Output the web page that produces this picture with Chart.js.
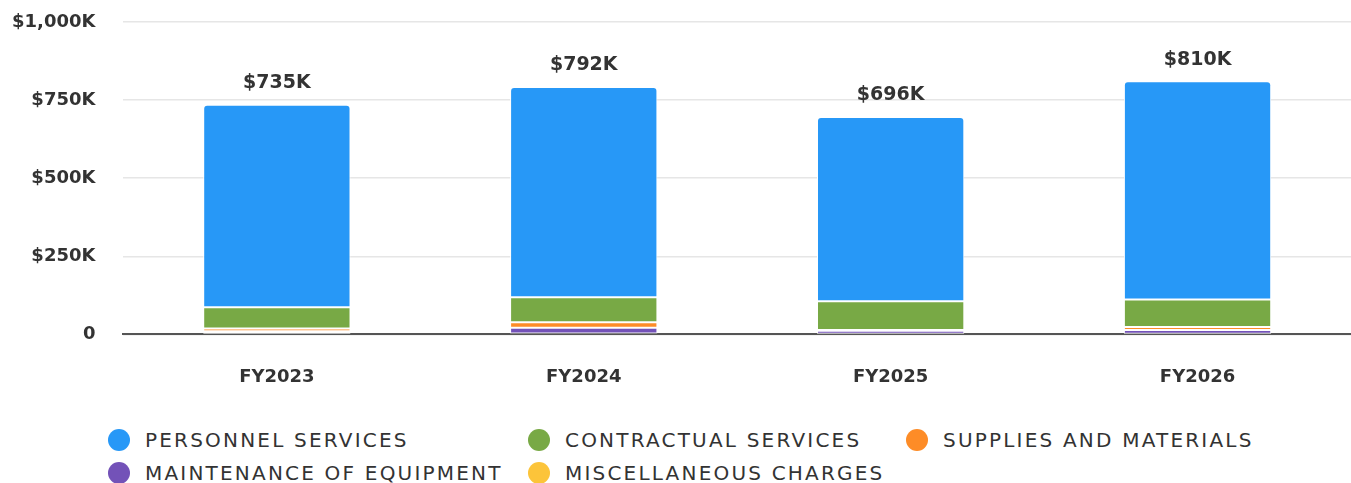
<!DOCTYPE html>
<html>
<head>
<meta charset="utf-8">
<script src="https://cdn.jsdelivr.net/npm/chart.js@4.4.1/dist/chart.umd.min.js"></script>
<style>
  html, body { margin: 0; padding: 0; background: #fff; }
  body { width: 1351px; height: 483px; overflow: hidden; font-family: "DejaVu Sans", sans-serif; }
  .chart-box { position: relative; width: 1351px; height: 420px; }
  #legend {
    position: absolute; left: 108px; top: 429px;
    display: grid; grid-template-columns: 420px 378px 420px; row-gap: 11px;
  }
  .item { display: flex; align-items: center; height: 22px; font-size: 20px; color: #333; letter-spacing: 2.2px; white-space: nowrap; }
  .dot { width: 22px; height: 22px; border-radius: 50%; margin-right: 15px; flex: none; }
</style>
</head>
<body>
<div class="chart-box"><canvas id="budget"></canvas></div>
<div id="legend"></div>
<script>
const years = ["FY2023", "FY2024", "FY2025", "FY2026"];

// values in $K
const personnel = [648, 673, 590, 698];
const contractual = [68, 80, 92, 88];
const supplies = [9, 18, 2, 10];
const maintenance = [4, 18, 10, 12];
const miscellaneous = [6, 3, 2, 2];

const yTicks = [0, 250, 500, 750, 1000];

const legendNames = ["PERSONNEL SERVICES", "CONTRACTUAL SERVICES", "SUPPLIES AND MATERIALS", "MAINTENANCE OF EQUIPMENT", "MISCELLANEOUS CHARGES"];
const colors = ["#2798f7", "#78a945", "#fd8c27", "#7352b8", "#fcc43a"];

const money = (v) => (v === 0 ? "0" : "$" + v.toLocaleString("en-US") + "K");

// total label above each stack
const totalLabels = {
  id: "totalLabels",
  afterDatasetsDraw(chart) {
    const ctx = chart.ctx;
    const last = chart.data.datasets.length - 1;
    const meta = chart.getDatasetMeta(last);
    ctx.save();
    ctx.font = "bold 19px 'DejaVu Sans', sans-serif";
    ctx.fillStyle = "#333";
    ctx.textAlign = "center";
    ctx.textBaseline = "bottom";
    meta.data.forEach((bar, i) => {
      let total = 0;
      chart.data.datasets.forEach((ds) => (total += ds.data[i]));
      ctx.fillText(money(total), bar.x, bar.y - 12);
    });
    ctx.restore();
  },
};

// bottom-up stacking order, personnel on top
const stackOrder = [
  { name: legendNames[4], data: miscellaneous, color: colors[4] },
  { name: legendNames[3], data: maintenance, color: colors[3] },
  { name: legendNames[2], data: supplies, color: colors[2] },
  { name: legendNames[1], data: contractual, color: colors[1] },
  { name: legendNames[0], data: personnel, color: colors[0] },
];

const chart = new Chart(document.getElementById("budget"), {
  type: "bar",
  data: {
    labels: years,
    datasets: stackOrder.map((s, i) => ({
      label: s.name,
      data: s.data,
      backgroundColor: s.color,
      borderColor: "#fff",
      borderWidth: 1,
      borderSkipped: false,
      borderRadius: i === stackOrder.length - 1 ? { topLeft: 4, topRight: 4 } : 0,
      barPercentage: 0.8,
      categoryPercentage: 0.6,
    })),
  },
  options: {
    responsive: true,
    maintainAspectRatio: false,
    animation: false,
    layout: { padding: { left: 4, right: 0, top: 22, bottom: 0 } },
    plugins: { legend: { display: false }, tooltip: { enabled: false } },
    scales: {
      x: {
        stacked: true,
        grid: { display: false, drawTicks: false },
        border: { color: "#555", width: 2 },
        ticks: { color: "#333", padding: 32, font: { family: "'DejaVu Sans', sans-serif", size: 18, weight: "bold" } },
      },
      y: {
        stacked: true,
        min: 0,
        max: 1000,
        afterBuildTicks: (axis) => { axis.ticks = yTicks.map((v) => ({ value: v })); },
        grid: { color: "#e6e6e6", lineWidth: 1.5, drawTicks: true, tickLength: 20, tickColor: "rgba(0,0,0,0)" },
        border: { display: false },
        ticks: {
          color: "#333",
          padding: 8,
          font: { family: "'DejaVu Sans', sans-serif", size: 18, weight: "bold" },
          callback: (v) => money(v),
        },
      },
    },
  },
  plugins: [totalLabels],
});

// html legend in three columns
const legend = document.getElementById("legend");
legendNames.forEach((name, i) => {
  const item = document.createElement("div");
  item.className = "item";
  item.innerHTML = '<span class="dot" style="background:' + colors[i] + '"></span>' + name;
  legend.appendChild(item);
});
</script>
</body>
</html>
